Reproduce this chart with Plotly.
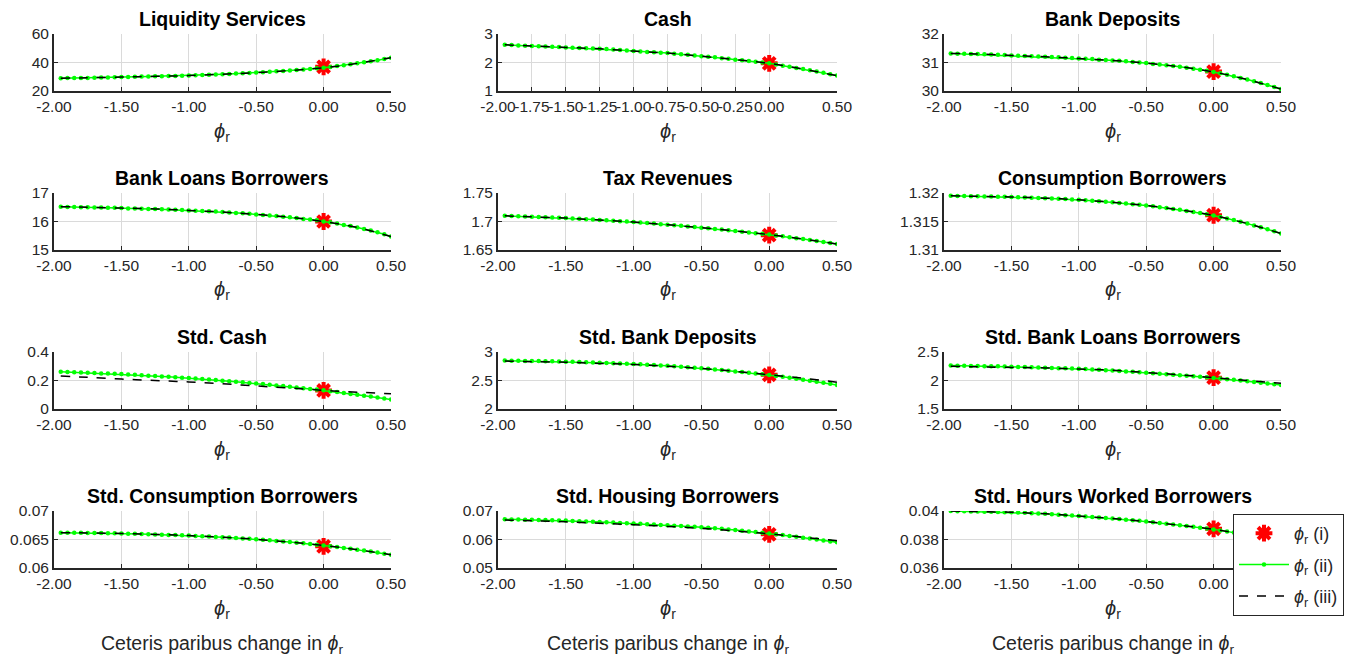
import plotly.graph_objects as go

# ---------------- data ----------------
x_ii = [round(-1.95 + 0.05 * i, 2) for i in range(50)]
x_iii = [-1.95, -1.75, -1.5, -1.25, -1.0, -0.75, -0.5, -0.25, 0.0, 0.25, 0.5]
x_i = [0.0]

titles = ["Liquidity Services", "Cash", "Bank Deposits",
          "Bank Loans Borrowers", "Tax Revenues", "Consumption Borrowers",
          "Std. Cash", "Std. Bank Deposits", "Std. Bank Loans Borrowers",
          "Std. Consumption Borrowers", "Std. Housing Borrowers", "Std. Hours Worked Borrowers"]

liq_ii = [29.0, 29.05, 29.1, 29.15, 29.2, 29.3, 29.4, 29.5, 29.6, 29.8,
          29.9, 30.0, 30.1, 30.2, 30.3, 30.4, 30.5, 30.6, 30.7, 30.8,
          31.0, 31.2, 31.4, 31.6, 31.8, 32.0, 32.2, 32.4, 32.6, 32.9,
          33.2, 33.5, 33.8, 34.1, 34.4, 34.7, 35.1, 35.5, 35.9, 36.3,
          36.9, 37.5, 38.1, 38.7, 39.4, 40.1, 40.8, 41.6, 42.5, 43.4]
liq_iii = [29.0, 29.3, 29.8, 30.3, 30.8, 31.8, 32.9, 34.4, 36.3, 39.4, 43.4]
liq_i = [37.0]

cash_ii = [2.62, 2.61, 2.60, 2.59, 2.58, 2.57, 2.56, 2.55, 2.54, 2.53,
           2.52, 2.51, 2.50, 2.49, 2.48, 2.47, 2.46, 2.44, 2.42, 2.40,
           2.39, 2.37, 2.36, 2.34, 2.33, 2.31, 2.29, 2.27, 2.25, 2.22,
           2.20, 2.18, 2.15, 2.13, 2.10, 2.08, 2.05, 2.03, 2.00, 1.97,
           1.93, 1.89, 1.85, 1.81, 1.77, 1.73, 1.68, 1.64, 1.59, 1.54]
cash_iii = [2.62, 2.58, 2.53, 2.48, 2.40, 2.33, 2.22, 2.10, 1.97, 1.77, 1.54]
cash_i = [1.97]

dep_ii = [31.32, 31.31, 31.31, 31.30, 31.30, 31.29, 31.28, 31.27, 31.26, 31.25,
          31.24, 31.23, 31.22, 31.21, 31.20, 31.19, 31.18, 31.17, 31.16, 31.14,
          31.13, 31.12, 31.10, 31.09, 31.07, 31.06, 31.04, 31.02, 31.00, 30.98,
          30.95, 30.93, 30.90, 30.88, 30.85, 30.82, 30.78, 30.75, 30.71, 30.67,
          30.62, 30.57, 30.52, 30.46, 30.40, 30.34, 30.28, 30.21, 30.14, 30.07]
dep_iii = [31.32, 31.30, 31.25, 31.20, 31.14, 31.07, 30.98, 30.85, 30.67, 30.40, 30.07]
dep_i = [30.68]

blb_ii = [16.52, 16.51, 16.51, 16.50, 16.50, 16.49, 16.49, 16.48, 16.48, 16.47,
          16.46, 16.46, 16.45, 16.44, 16.44, 16.43, 16.42, 16.41, 16.40, 16.39,
          16.38, 16.37, 16.36, 16.35, 16.33, 16.32, 16.30, 16.29, 16.27, 16.25,
          16.23, 16.21, 16.19, 16.17, 16.15, 16.12, 16.09, 16.07, 16.04, 16.00,
          15.97, 15.93, 15.88, 15.84, 15.79, 15.74, 15.68, 15.62, 15.55, 15.47]
blb_iii = [16.52, 16.50, 16.47, 16.44, 16.39, 16.33, 16.25, 16.15, 16.00, 15.79, 15.47]
blb_i = [16.0]

tax_ii = [1.7100, 1.7096, 1.7091, 1.7087, 1.7082, 1.7078, 1.7073, 1.7069, 1.7064, 1.7060,
          1.7054, 1.7048, 1.7041, 1.7034, 1.7027, 1.7020, 1.7013, 1.7006, 1.6998, 1.6990,
          1.6981, 1.6972, 1.6963, 1.6953, 1.6944, 1.6934, 1.6924, 1.6914, 1.6903, 1.6892,
          1.6881, 1.6870, 1.6858, 1.6846, 1.6834, 1.6822, 1.6809, 1.6796, 1.6783, 1.6770,
          1.6755, 1.6740, 1.6724, 1.6708, 1.6692, 1.6675, 1.6658, 1.6641, 1.6623, 1.6605]
tax_iii = [1.7100, 1.7082, 1.7060, 1.7027, 1.6990, 1.6944, 1.6892, 1.6834, 1.6770, 1.6692, 1.6605]
tax_i = [1.676]

cons_ii = [1.31950, 1.31948, 1.31946, 1.31944, 1.31942, 1.31940, 1.31938, 1.31936, 1.31934, 1.31930,
           1.31926, 1.31922, 1.31918, 1.31914, 1.31910, 1.31905, 1.31900, 1.31895, 1.31888, 1.31880,
           1.31872, 1.31864, 1.31855, 1.31846, 1.31836, 1.31826, 1.31815, 1.31804, 1.31792, 1.31780,
           1.31766, 1.31752, 1.31737, 1.31721, 1.31704, 1.31686, 1.31667, 1.31647, 1.31626, 1.31605,
           1.31580, 1.31553, 1.31525, 1.31495, 1.31464, 1.31432, 1.31398, 1.31363, 1.31327, 1.31290]
cons_iii = [1.31950, 1.31942, 1.31930, 1.31910, 1.31880, 1.31836, 1.31780, 1.31704, 1.31605, 1.31464, 1.31290]
cons_i = [1.3161]

scash_ii = [0.262, 0.260, 0.258, 0.256, 0.254, 0.252, 0.250, 0.249, 0.247, 0.245,
            0.242, 0.240, 0.237, 0.234, 0.231, 0.228, 0.226, 0.223, 0.220, 0.217,
            0.214, 0.210, 0.207, 0.203, 0.199, 0.195, 0.191, 0.187, 0.183, 0.179,
            0.175, 0.170, 0.165, 0.161, 0.156, 0.151, 0.146, 0.141, 0.136, 0.131,
            0.125, 0.119, 0.113, 0.106, 0.100, 0.093, 0.087, 0.080, 0.074, 0.067]
scash_iii = [0.231, 0.222, 0.210, 0.200, 0.190, 0.177, 0.162, 0.147, 0.131, 0.118, 0.107]
scash_i = [0.13]

sdep_ii = [2.850, 2.848, 2.846, 2.844, 2.842, 2.840, 2.838, 2.836, 2.833, 2.830,
           2.827, 2.824, 2.820, 2.816, 2.812, 2.808, 2.804, 2.800, 2.795, 2.790,
           2.784, 2.778, 2.771, 2.764, 2.757, 2.749, 2.741, 2.733, 2.724, 2.715,
           2.704, 2.694, 2.683, 2.672, 2.660, 2.648, 2.636, 2.623, 2.610, 2.597,
           2.581, 2.565, 2.549, 2.532, 2.515, 2.497, 2.479, 2.460, 2.441, 2.422]
sdep_iii = [2.84, 2.83, 2.82, 2.80, 2.78, 2.75, 2.71, 2.66, 2.60, 2.54, 2.47]
sdep_i = [2.60]

sblb_ii = [2.262, 2.260, 2.258, 2.256, 2.254, 2.252, 2.250, 2.248, 2.245, 2.242,
           2.239, 2.236, 2.232, 2.229, 2.225, 2.221, 2.217, 2.213, 2.209, 2.205,
           2.200, 2.194, 2.188, 2.181, 2.174, 2.167, 2.160, 2.152, 2.144, 2.135,
           2.127, 2.119, 2.111, 2.102, 2.093, 2.084, 2.075, 2.065, 2.055, 2.045,
           2.034, 2.023, 2.011, 1.999, 1.987, 1.974, 1.961, 1.947, 1.933, 1.919]
sblb_iii = [2.25, 2.24, 2.23, 2.22, 2.20, 2.18, 2.14, 2.10, 2.05, 2.00, 1.95]
sblb_i = [2.05]

scons_ii = [0.06620, 0.06619, 0.06618, 0.06617, 0.06616, 0.06614, 0.06612, 0.06610, 0.06608, 0.06605,
            0.06602, 0.06599, 0.06596, 0.06593, 0.06589, 0.06585, 0.06581, 0.06577, 0.06573, 0.06568,
            0.06563, 0.06558, 0.06552, 0.06546, 0.06540, 0.06533, 0.06526, 0.06519, 0.06511, 0.06503,
            0.06494, 0.06485, 0.06475, 0.06465, 0.06455, 0.06444, 0.06433, 0.06421, 0.06409, 0.06396,
            0.06382, 0.06368, 0.06353, 0.06338, 0.06322, 0.06305, 0.06288, 0.06270, 0.06252, 0.06233]
scons_iii = [0.06620, 0.06616, 0.06605, 0.06589, 0.06568, 0.06540, 0.06503, 0.06455, 0.06396, 0.06322, 0.06233]
scons_i = [0.0638]

shous_ii = [0.06710, 0.06705, 0.06700, 0.06695, 0.06690, 0.06685, 0.06680, 0.06675, 0.06669, 0.06663,
            0.06653, 0.06643, 0.06633, 0.06623, 0.06613, 0.06603, 0.06593, 0.06583, 0.06572, 0.06561,
            0.06549, 0.06537, 0.06525, 0.06512, 0.06499, 0.06486, 0.06473, 0.06459, 0.06445, 0.06430,
            0.06412, 0.06393, 0.06373, 0.06352, 0.06330, 0.06308, 0.06285, 0.06261, 0.06237, 0.06212,
            0.06183, 0.06154, 0.06124, 0.06094, 0.06063, 0.06031, 0.05999, 0.05966, 0.05933, 0.05900]
shous_iii = [0.0668, 0.0666, 0.0662, 0.0657, 0.0652, 0.0646, 0.0639, 0.0630, 0.0620, 0.0608, 0.0596]
shous_i = [0.0618]

shrs_ii = [0.04000, 0.03999, 0.03998, 0.03997, 0.03996, 0.03995, 0.03994, 0.03993, 0.03992, 0.03991,
           0.03989, 0.03987, 0.03985, 0.03982, 0.03980, 0.03977, 0.03974, 0.03971, 0.03968, 0.03965,
           0.03962, 0.03958, 0.03955, 0.03951, 0.03947, 0.03943, 0.03939, 0.03935, 0.03931, 0.03926,
           0.03921, 0.03916, 0.03911, 0.03906, 0.03900, 0.03895, 0.03889, 0.03883, 0.03877, 0.03871,
           0.03864, 0.03857, 0.03849, 0.03841, 0.03833, 0.03824, 0.03815, 0.03806, 0.03796, 0.03786]
shrs_iii = [0.04000, 0.03996, 0.03991, 0.03980, 0.03965, 0.03947, 0.03926, 0.03900, 0.03871, 0.03833, 0.03786]
shrs_i = [0.03875]

series_ii = [liq_ii, cash_ii, dep_ii, blb_ii, tax_ii, cons_ii, scash_ii, sdep_ii, sblb_ii, scons_ii, shous_ii, shrs_ii]
series_iii = [liq_iii, cash_iii, dep_iii, blb_iii, tax_iii, cons_iii, scash_iii, sdep_iii, sblb_iii, scons_iii, shous_iii, shrs_iii]
series_i = [liq_i, cash_i, dep_i, blb_i, tax_i, cons_i, scash_i, sdep_i, sblb_i, scons_i, shous_i, shrs_i]

yticks = [[20, 40, 60], [1, 2, 3], [30, 31, 32],
          [15, 16, 17], [1.65, 1.7, 1.75], [1.31, 1.315, 1.32],
          [0, 0.2, 0.4], [2, 2.5, 3], [1.5, 2, 2.5],
          [0.06, 0.065, 0.07], [0.05, 0.06, 0.07], [0.036, 0.038, 0.04]]
yticklabels = [["20", "40", "60"], ["1", "2", "3"], ["30", "31", "32"],
               ["15", "16", "17"], ["1.65", "1.7", "1.75"], ["1.31", "1.315", "1.32"],
               ["0", "0.2", "0.4"], ["2", "2.5", "3"], ["1.5", "2", "2.5"],
               ["0.06", "0.065", "0.07"], ["0.05", "0.06", "0.07"], ["0.036", "0.038", "0.04"]]
xticks_std = [-2.0, -1.5, -1.0, -0.5, 0.0, 0.5]
xticklabels_std = ["-2.00", "-1.50", "-1.00", "-0.50", "0.00", "0.50"]
xticks_cash = [-2.0, -1.75, -1.5, -1.25, -1.0, -0.75, -0.5, -0.25, 0.0, 0.5]
xticklabels_cash = ["-2.00", "-1.75", "-1.50", "-1.25", "-1.00", "-0.75", "-0.50", "-0.25", "0.00", "0.50"]

legend_names = ["<i>ϕ</i><sub>r</sub> (i)", "<i>ϕ</i><sub>r</sub> (ii)", "<i>ϕ</i><sub>r</sub> (iii)"]
xlabel_text = "<i>ϕ</i><sub>r</sub>"
bottom_label = "Ceteris paribus change in <i>ϕ</i><sub>r</sub>"

# ---------------- layout geometry (pixels in the browser window) ----------------
W, H = 1357, 659
col_px = [(54, 391), (498, 837), (944, 1281)]
row_px = [(34, 91), (193, 250), (352, 409), (511, 568)]


def px(v):
    return v / W


def py(v):
    return 1 - v / H


FONT = "Liberation Sans, Arial, Helvetica, sans-serif"
TXT = "#262626"
TICK_SIZE = 15.5

fig = go.Figure()
annotations = []
for k in range(12):
    r, c = divmod(k, 3)
    xa = "x" if k == 0 else f"x{k+1}"
    ya = "y" if k == 0 else f"y{k+1}"
    first = k == 0
    fig.add_trace(go.Scatter(x=x_i, y=series_i[k], mode="markers", name=legend_names[0],
                             legendgroup="i", showlegend=first,
                             marker=dict(symbol="asterisk-open", size=14, color="red",
                                         line=dict(color="red", width=4)),
                             xaxis=xa, yaxis=ya))
    fig.add_trace(go.Scatter(x=x_ii, y=series_ii[k], mode="lines+markers", name=legend_names[1],
                             legendgroup="ii", showlegend=first,
                             line=dict(color="#00ff00", width=1.5),
                             marker=dict(symbol="circle", size=4.5, color="#00ff00"),
                             xaxis=xa, yaxis=ya))
    fig.add_trace(go.Scatter(x=x_iii, y=series_iii[k], mode="lines", name=legend_names[2],
                             legendgroup="iii", showlegend=first,
                             line=dict(color="black", width=1.5, dash="dash", shape="spline"),
                             xaxis=xa, yaxis=ya))

    x0, x1 = col_px[c]
    y0, y1 = row_px[r]
    xkey = "xaxis" if k == 0 else f"xaxis{k+1}"
    ykey = "yaxis" if k == 0 else f"yaxis{k+1}"
    is_cash = (k == 1)
    fig.update_layout(**{
        xkey: dict(domain=[px(x0), px(x1)], anchor=ya, range=[-2.0, 0.5],
                   tickvals=xticks_cash if is_cash else xticks_std,
                   ticktext=xticklabels_cash if is_cash else xticklabels_std,
                   tickangle=0, automargin=False,
                   showgrid=True, gridcolor="#dadada", gridwidth=1,
                   showline=True, linecolor="#262626", linewidth=2,
                   ticks="inside", ticklen=4, tickcolor="#262626",
                   tickfont=dict(family=FONT, size=TICK_SIZE, color=TXT),
                   zeroline=False, mirror=False, fixedrange=True),
        ykey: dict(domain=[py(y1), py(y0)], anchor=xa,
                   range=[yticks[k][0], yticks[k][-1]],
                   tickvals=yticks[k], ticktext=yticklabels[k],
                   automargin=False,
                   showgrid=True, gridcolor="#dadada", gridwidth=1,
                   showline=True, linecolor="#262626", linewidth=2,
                   ticks="inside", ticklen=4, tickcolor="#262626",
                   tickfont=dict(family=FONT, size=TICK_SIZE, color=TXT),
                   zeroline=False, mirror=False, fixedrange=True),
    })
    xc = px((x0 + x1) / 2)
    annotations.append(dict(text=f"<b>{titles[k]}</b>", x=xc, y=py(y0 - 15),
                            xref="paper", yref="paper", showarrow=False,
                            xanchor="center", yanchor="middle",
                            font=dict(family=FONT, size=19.5, color="black")))
    annotations.append(dict(text=xlabel_text, x=xc, y=py(y1 + 41),
                            xref="paper", yref="paper", showarrow=False,
                            xanchor="center", yanchor="middle",
                            font=dict(family=FONT, size=20, color=TXT)))
    if r == 3:
        annotations.append(dict(text=bottom_label, x=xc, y=py(644),
                                xref="paper", yref="paper", showarrow=False,
                                xanchor="center", yanchor="middle",
                                font=dict(family=FONT, size=19.5, color=TXT)))

fig.update_layout(
    template="none",
    width=W, height=H,
    margin=dict(l=0, r=0, t=0, b=0, pad=0, autoexpand=False),
    paper_bgcolor="white", plot_bgcolor="white",
    annotations=annotations,
    showlegend=True,
    legend=dict(x=px(1233), y=py(514), xanchor="left", yanchor="top",
                bgcolor="white", bordercolor="#262626", borderwidth=1,
                font=dict(family=FONT, size=18, color=TXT),
                itemwidth=50, tracegroupgap=5),
)

fig.write_html("out.html",
               config={"displayModeBar": False},
               post_script="document.body.style.margin='0';document.body.style.overflow='hidden';")
